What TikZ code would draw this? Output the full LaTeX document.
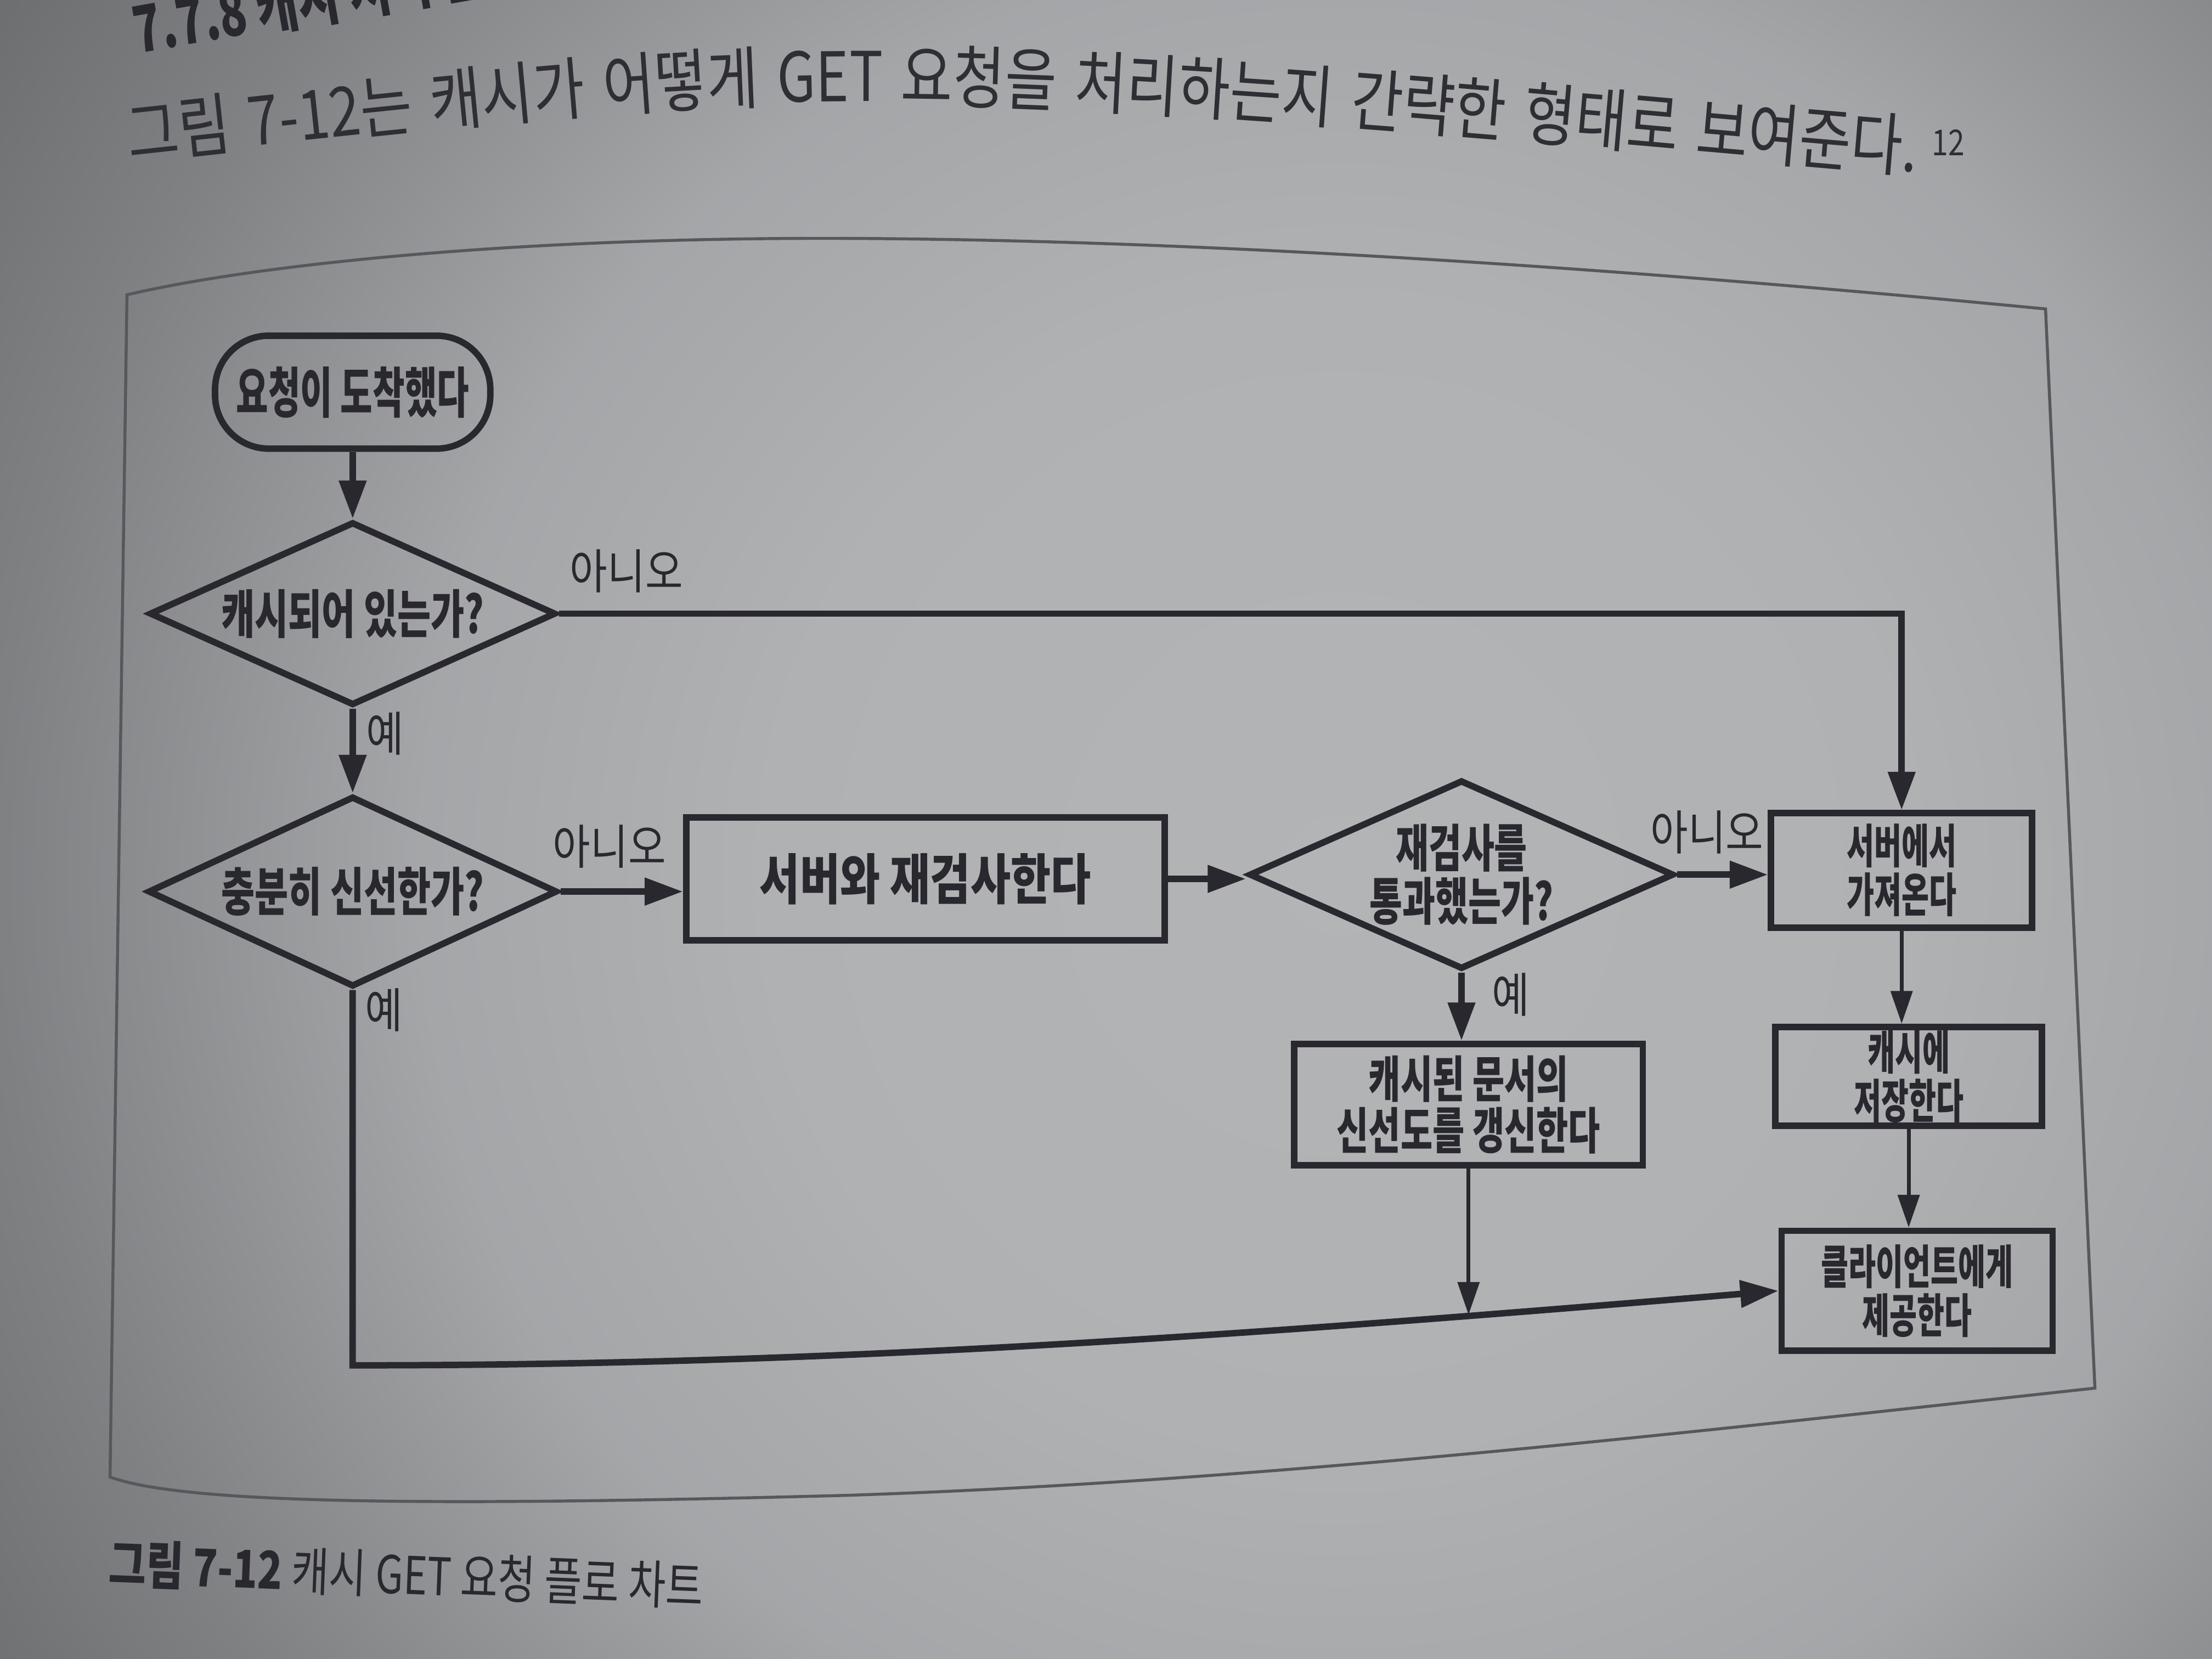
\documentclass[tikz,border=0pt]{standalone}
\usepackage{fontspec}
\usetikzlibrary{arrows.meta,shapes.geometric,decorations.text}
\newfontfamily\krM[FakeStretch=0.70]{Noto Sans CJK KR}
\newfontfamily\krW[FakeStretch=0.80]{Noto Sans CJK KR}
\newfontfamily\krN[FakeStretch=0.64]{Noto Sans CJK KR}
\newfontfamily\krL[FakeStretch=0.86]{Noto Sans CJK KR}
\newfontfamily\krH[FakeStretch=0.82]{Noto Sans CJK KR}
\newfontfamily\krC[FakeStretch=0.78]{Noto Sans CJK KR}
\definecolor{inkc}{RGB}{40,40,46}
\definecolor{hdrc}{RGB}{46,46,52}
\definecolor{framec}{RGB}{86,88,92}
\pgfdeclareradialshading{pagebg}{\pgfpoint{0bp}{0bp}}{rgb(0bp)=(0.70,0.705,0.71); rgb(6.25bp)=(0.69,0.695,0.70); rgb(10.2bp)=(0.645,0.65,0.66); rgb(14.8bp)=(0.50,0.505,0.515); rgb(18bp)=(0.42,0.425,0.435); rgb(25bp)=(0.38,0.385,0.395); rgb(50bp)=(0.38,0.385,0.395)}
\begin{document}
\begin{tikzpicture}[x=0.01cm,y=-0.01cm,
  shp/.style={draw=inkc, line width=1.3pt, inner sep=0pt, align=center, text=inkc},
  box/.style={shp, rectangle},
  dec/.style={shp, diamond, aspect=2.2, inner sep=-2pt},
  mainfont/.style={font=\krM\bfseries\fontsize{10.5}{11}\selectfont},
  rightfont/.style={font=\krN\bfseries\fontsize{9.4}{8.8}\selectfont},
  conn/.style={draw=inkc, line width=1.3pt, -{Triangle[length=7.7pt,width=5.3pt]}},
  thinconn/.style={draw=inkc, line width=0.8pt, -{Triangle[length=6.6pt,width=4.3pt]}},
  lbl/.style={text=inkc, inner sep=0pt, font=\krL\fontsize{9.6}{10}\selectfont}]
\useasboundingbox (0,0) rectangle (1568,1176);
% page background
\begin{scope}
  \clip (0,0) rectangle (1568,1176);
  \shade[shading=pagebg] (950,620) circle (16cm);
\end{scope}
% section heading (cut off at top)
\node[anchor=base west, rotate=10, inner sep=0pt, text=inkc,
      font=\krM\bfseries\fontsize{13}{13}\selectfont] (head) at (97,38) {7.7.8 캐시 처리 플로 차트};
% body line, curved by the page
\path[decorate, decoration={text along path, text align={fit to path stretching spaces},
  text={|\krH\fontsize{13.8}{14}\selectfont\color{hdrc}|그림 7-12는 캐시가 어떻게 GET 요청을 처리하는지 간략한 형태로 보여준다.}}]
  (92,113) .. controls (350,85) and (480,70) .. (640,72) .. controls (850,74) and (1150,105) .. (1358,122);
\node[inner sep=0pt, text=hdrc, font=\krH\fontsize{7.2}{7.5}\selectfont] (fn) at (1381,101) {12};
% figure frame
\draw[framec, line width=0.6pt] (90,209) .. controls (170,190) and (350,168) .. (600,169)
  .. controls (850,170) and (1150,190) .. (1450,219) -- (1485,984)
  .. controls (1200,1015) and (900,1050) .. (600,1060)
  .. controls (300,1068) and (130,1066) .. (78,1047) -- cycle;
% nodes
\node[box, rounded corners=0.38cm, minimum width=1.95cm, minimum height=0.80cm,
      font=\krN\bfseries\fontsize{11}{11}\selectfont] (start) at (250,278) {요청이 도착했다};
\node[dec, mainfont, minimum width=2.88cm, minimum height=1.30cm] (d1) at (250,435) {캐시되어 있는가?};
\node[dec, mainfont, minimum width=2.90cm, minimum height=1.35cm] (d2) at (250,632) {충분히 신선한가?};
\node[box, minimum width=3.39cm, minimum height=0.87cm,
      font=\krW\bfseries\fontsize{11}{12}\selectfont] (reval) at (656,623) {서버와 재검사한다};
\node[dec, minimum width=3.01cm, minimum height=1.34cm,
      font=\krM\bfseries\fontsize{10.3}{9}\selectfont] (d3) at (1036,620) {재검사를\\통과했는가?};
\node[box, rightfont, minimum width=1.85cm, minimum height=0.81cm] (fetch) at (1348,617) {서버에서\\가져온다};
\node[box, minimum width=2.47cm, minimum height=0.86cm,
      font=\krM\bfseries\fontsize{10}{9.2}\selectfont] (update) at (1041,783) {캐시된 문서의\\신선도를 갱신한다};
\node[box, rightfont, minimum width=1.89cm, minimum height=0.70cm] (store) at (1353,763) {캐시에\\저장한다};
\node[box, rightfont, minimum width=1.92cm, minimum height=0.85cm] (client) at (1359,915) {클라이언트에게\\제공한다};
% connectors
\draw[conn] (start.south) -- (start.south |- d1.north);
\draw[conn] (d1.east) -- (d1.east -| fetch.north) -- (fetch.north);
\draw[conn] (d1.south) -- (d2.north);
\draw[conn] (d2.east) -- (d2.east -| reval.west);
\draw[conn] (reval.east) -- (reval.east -| d3.west);
\draw[conn] (d3.east) -- (d3.east -| fetch.west);
\draw[conn] (d3.south) -- (d3.south |- update.north);
\path (d2.south) ++(0,266) coordinate (bend);
\draw[conn] (d2.south) -- (bend) .. controls (600,968) and (900,945) .. coordinate[pos=0.8] (jn) (client.west);
\draw[thinconn] (update.south) -- (update.south |- jn);
\draw[thinconn] (fetch.south) -- (fetch.south |- store.north);
\draw[thinconn] (store.south) -- (store.south |- client.north);
% labels
\node[lbl] (l1) at (444,405) {아니오};
\node[lbl] (l2) at (273,520) {예};
\node[lbl] (l3) at (432,600) {아니오};
\node[lbl] (l4) at (272,716) {예};
\node[lbl] (l5) at (1210,590) {아니오};
\node[lbl] (l6) at (1071,705) {예};
% caption
\node[anchor=base west, rotate=-2.2, inner sep=0pt, text=inkc,
      font=\krC\fontsize{10.5}{10.5}\selectfont] (cap) at (76,1122) {{\bfseries 그림 7-12} 캐시 GET 요청 플로 차트};
\end{tikzpicture}
\end{document}
